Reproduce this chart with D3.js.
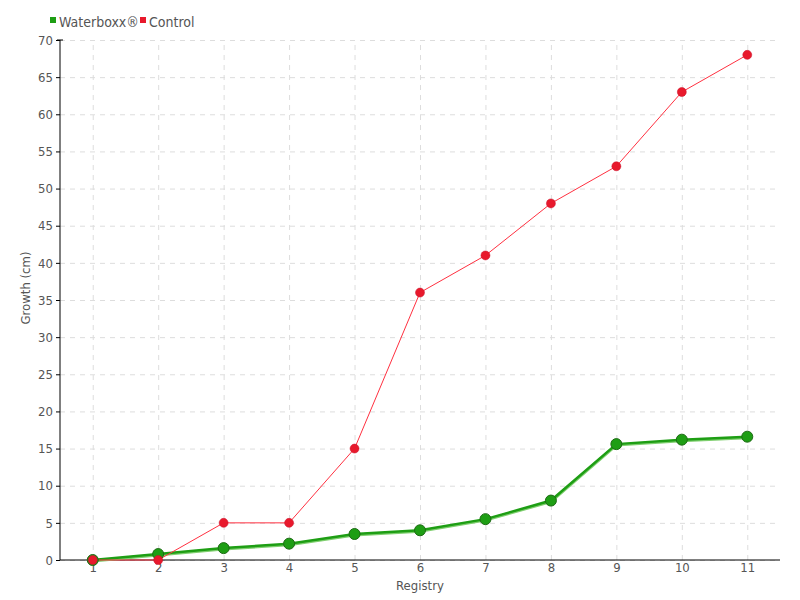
<!DOCTYPE html>
<html>
<head>
<meta charset="utf-8">
<style>
  body { margin: 0; background: #fff; }
  text { font-family: "DejaVu Sans Condensed", "Liberation Sans Narrow", "DejaVu Sans", sans-serif; font-stretch: condensed; fill: #555; }
  .grid line { stroke: #ddd; stroke-dasharray: 5,5; }
  .grid path { display: none; }
</style>
</head>
<body>
<script src="https://d3js.org/d3.v7.min.js"></script>
<script>
// chart data
var registry = [1, 2, 3, 4, 5, 6, 7, 8, 9, 10, 11];
var waterboxx = [0, 0.8, 1.6, 2.2, 3.5, 4, 5.5, 8, 15.6, 16.2, 16.6];
var control = [0, 0, 5, 5, 15, 36, 41, 48, 53, 63, 68];
var yTicks = d3.range(0, 75, 5);

var margin = {top: 40, right: 20, bottom: 40, left: 60},
    width = 800 - margin.left - margin.right,
    height = 600 - margin.top - margin.bottom;

var svg = d3.select("body").append("svg")
    .attr("width", 800)
    .attr("height", 600);

var g = svg.append("g")
    .attr("transform", "translate(" + margin.left + "," + margin.top + ")");

var x = d3.scalePoint().domain(registry).range([0, width]).padding(0.5);
var y = d3.scaleLinear().domain([0, 70]).range([height, 0]);

// gridlines
g.append("g").attr("class", "grid")
    .attr("transform", "translate(0," + height + ")")
    .call(d3.axisBottom(x).tickSize(-height).tickFormat(""));
g.append("g").attr("class", "grid")
    .call(d3.axisLeft(y).tickValues(yTicks).tickSize(-width).tickFormat(""));

// axes
var xAxis = g.append("g")
    .attr("transform", "translate(0," + height + ")")
    .call(d3.axisBottom(x).tickSize(0).tickPadding(3));
xAxis.select(".domain").attr("stroke", "#000").attr("d", "M0,0H" + width);
xAxis.selectAll("text").style("font-size", "13px").attr("fill", "#555");

var yAxis = g.append("g")
    .call(d3.axisLeft(y).tickValues(yTicks).tickSize(4).tickPadding(3));
yAxis.select(".domain").attr("stroke", "#000").attr("d", "M0," + height + "V0");
yAxis.selectAll("text").style("font-size", "13px").attr("fill", "#555");
// little cap on top of the y axis
g.append("line").attr("x1", -3).attr("x2", 3).attr("y1", 0).attr("y2", 0).attr("stroke", "#000");

// axis titles
svg.append("text")
    .attr("x", margin.left + width / 2)
    .attr("y", 590)
    .attr("text-anchor", "middle")
    .style("font-size", "13px")
    .text("Registry");
svg.append("text")
    .attr("transform", "translate(30," + (margin.top + height / 2 - 12) + ") rotate(-90)")
    .attr("text-anchor", "middle")
    .style("font-size", "13px")
    .text("Growth (cm)");

// series as point objects
var controlData = registry.map(function(r, i) { return {r: r, v: control[i]}; });
var waterData = registry.map(function(r, i) { return {r: r, v: waterboxx[i]}; });

var line = d3.line()
    .x(function(d) { return x(d.r); })
    .y(function(d) { return y(d.v); });

// waterboxx line (thick with a light edge)
g.append("path").datum(waterData)
    .attr("fill", "none").attr("stroke", "#7fcf6f").attr("stroke-width", 3)
    .attr("transform", "translate(0,1)")
    .attr("d", line);
g.append("path").datum(waterData)
    .attr("fill", "none").attr("stroke", "#1e9e14").attr("stroke-width", 2.5)
    .attr("d", line);

g.append("path").datum(controlData)
    .attr("fill", "none").attr("stroke", "#ff3040").attr("stroke-width", 1)
    .attr("d", line);

g.selectAll(".wdot").data(waterData).enter().append("circle")
    .attr("class", "wdot")
    .attr("cx", function(d) { return x(d.r); })
    .attr("cy", function(d) { return y(d.v); })
    .attr("r", 5.5)
    .attr("fill", "#1e9e14")
    .attr("stroke", "#1d6b14").attr("stroke-width", 1);

g.selectAll(".cdot").data(controlData).enter().append("circle")
    .attr("class", "cdot")
    .attr("cx", function(d) { return x(d.r); })
    .attr("cy", function(d) { return y(d.v); })
    .attr("r", 4.5)
    .attr("fill", "#e8192c")
    .attr("stroke", "#c8102a").attr("stroke-width", 0.5);

// legend
var legend = [{name: "Waterboxx®", color: "#1e9e14", x: 50}, {name: "Control", color: "#e8192c", x: 140}];
var lg = svg.selectAll(".legend").data(legend).enter().append("g")
    .attr("transform", function(d) { return "translate(" + d.x + ",22)"; });
lg.append("rect").attr("x", 0).attr("y", -5).attr("width", 6).attr("height", 6)
    .attr("fill", function(d) { return d.color; });
lg.append("text").attr("x", 9).attr("y", 5)
    .style("font-size", "14px")
    .text(function(d) { return d.name; });
</script>
</body>
</html>
